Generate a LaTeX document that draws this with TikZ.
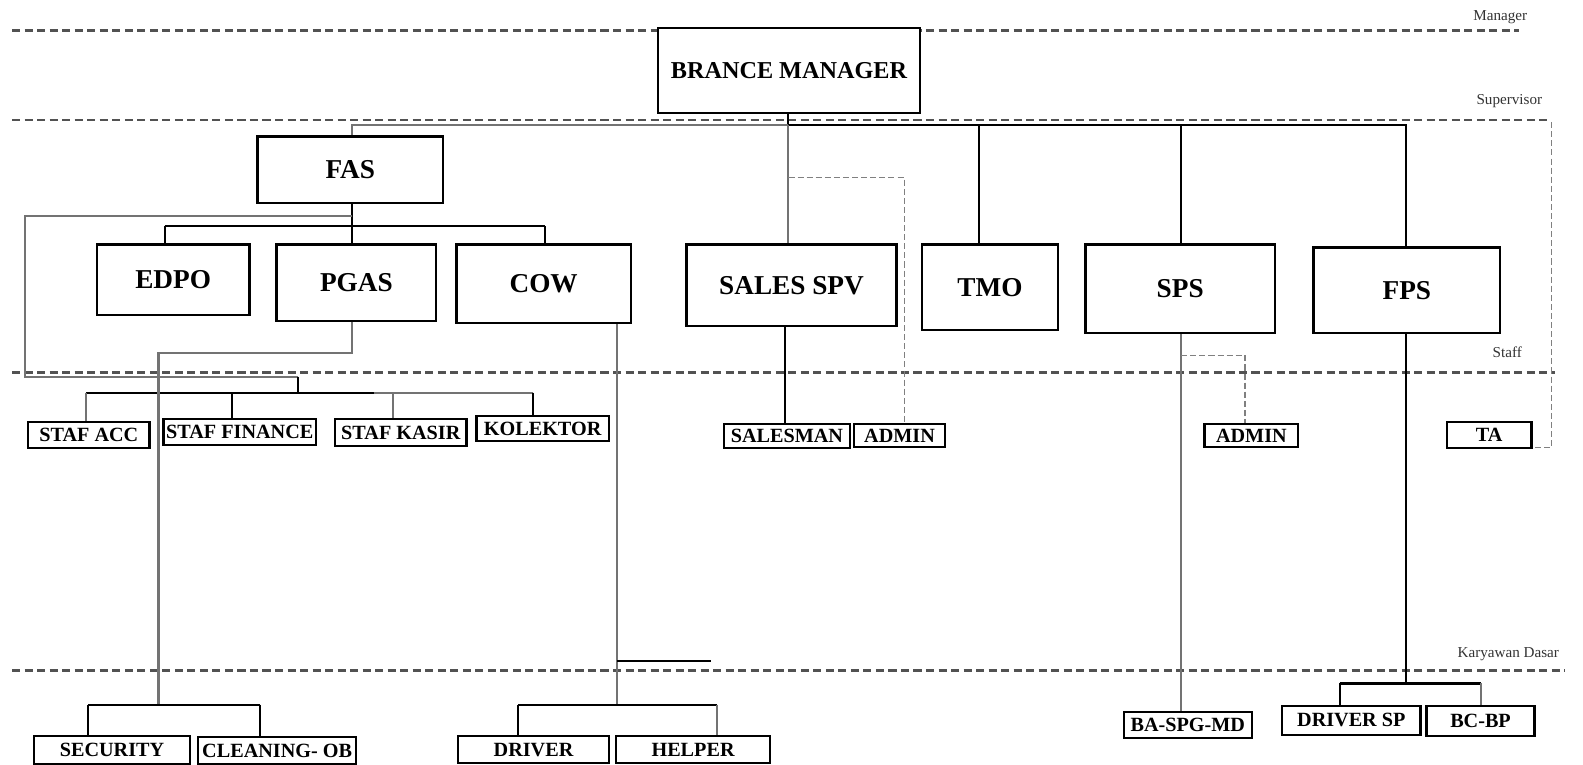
\documentclass[tikz,border=0pt]{standalone}
\usepackage{fontspec}
\setmainfont{Liberation Serif}
\begin{document}
\begin{tikzpicture}[x=0.5pt,y=-0.5pt,
  box/.style={draw, line width=1.2pt, fill=white, inner sep=0pt, font=\bfseries\fontsize{13.5}{14}\selectfont},
  sbox/.style={draw, line width=1.1pt, fill=white, inner sep=0pt, font=\bfseries\fontsize{10}{11}\selectfont},
  level/.style={dash pattern=on 4pt off 2.2pt, line width=1.25pt, draw=black!68},
  lvltxt/.style={font=\fontsize{7.5}{8}\selectfont, text=black!80, inner sep=0pt},
  conn/.style={line width=1pt, draw=black},
  gconn/.style={line width=1pt, draw=black!55},
  dconn/.style={line width=0.7pt, draw=black!50, dash pattern=on 3pt off 1.5pt}]
\useasboundingbox (0,0) rectangle (1568,757);
\fill[white] (0,0) rectangle (1568,757);

% level lines
\coordinate (m1) at (12,30);   \coordinate (m2) at (1505,30);
\coordinate (s1) at (12,119);  \coordinate (s2) at (1537,119);
\coordinate (t1) at (12,369);  \coordinate (t2) at (1540,369);
\coordinate (k1) at (12,664);  \coordinate (k2) at (1550,664);
\draw[level] (m1) -- (m2);
\draw[level] (s1) -- (s2);
\draw[level] (t1) -- (t2);
\draw[level] (k1) -- (k2);
\node[lvltxt] (lm) at (1486,17) {Manager};
\node[lvltxt] (ls) at (1495,100) {Supervisor};
\node[lvltxt] (lt) at (1493,349) {Staff};
\node[lvltxt] (lk) at (1494,648) {Karyawan Dasar};

% main boxes
\node[box, font=\bfseries\fontsize{12}{13}\selectfont, minimum width=129.5pt, minimum height=42pt] (bm) at (781.5,70) {BRANCE MANAGER};
\node[box, minimum width=92pt, minimum height=33pt] (fas) at (347,168) {FAS};
\node[box, minimum width=75.5pt, minimum height=35pt] (edpo) at (171.5,277) {EDPO};
\node[box, minimum width=79pt, minimum height=38pt] (pgas) at (353,280) {PGAS};
\node[box, minimum width=86.5pt, minimum height=39pt] (cow) at (538.5,281) {COW};
\node[box, minimum width=104pt, minimum height=40.5pt] (sspv) at (784,282.5) {SALES SPV};
\node[box, minimum width=67.5pt, minimum height=42.5pt] (tmo) at (980.5,284.5) {TMO};
\node[box, minimum width=94pt, minimum height=44pt] (sps) at (1169,286) {SPS};
\node[box, minimum width=92.5pt, minimum height=42.5pt] (fps) at (1393.5,287.5) {FPS};

% staff boxes
\node[sbox, minimum width=60pt, minimum height=13pt] (acc) at (88,431) {STAF ACC};
\node[sbox, minimum width=75.5pt, minimum height=13pt] (fin) at (237.5,428) {STAF FINANCE};
\node[sbox, minimum width=65pt, minimum height=13.5pt] (kasir) at (397,428.5) {STAF KASIR};
\node[sbox, minimum width=65.5pt, minimum height=12.5pt] (kol) at (537.5,424.5) {KOLEKTOR};
\node[sbox, minimum width=62.5pt, minimum height=12pt] (salesman) at (779.5,432) {SALESMAN};
\node[sbox, minimum width=45pt, minimum height=11.5pt] (admina) at (891,431.5) {ADMIN};
\node[sbox, minimum width=46.5pt, minimum height=11.5pt] (adminb) at (1239.5,431.5) {ADMIN};
\node[sbox, minimum width=42pt, minimum height=13pt] (ta) at (1475,431) {TA};

% bottom boxes
\node[sbox, minimum width=77pt, minimum height=14pt] (sec) at (111,743) {SECURITY};
\node[sbox, minimum width=78.5pt, minimum height=13.5pt] (clean) at (274.5,743.5) {CLEANING- OB};
\node[sbox, minimum width=74.5pt, minimum height=13.5pt] (drv) at (528.5,742.5) {DRIVER};
\node[sbox, minimum width=76.5pt, minimum height=13.5pt] (help) at (686.5,742.5) {HELPER};
\node[sbox, minimum width=63.5pt, minimum height=13pt] (ba) at (1176.5,718) {BA-SPG-MD};
\node[sbox, minimum width=68.5pt, minimum height=14.5pt] (drvsp) at (1338.5,713.5) {DRIVER SP};
\node[sbox, minimum width=53.5pt, minimum height=15pt] (bcbp) at (1466.5,714) {BC-BP};

% junction coordinates
\coordinate (jBM) at (781,124);
\coordinate (jFAS) at (349,124);
\coordinate (jTMO) at (970,124);
\coordinate (jSPS) at (1170,124);
\coordinate (jFPS) at (1393,124);
\coordinate (jSA1) at (781,176);
\coordinate (jSA2) at (896,176);
\coordinate (jF1) at (349,224);
\coordinate (jE) at (163,224);
\coordinate (jC) at (540,224);
\coordinate (jG1) at (349,214);
\coordinate (jG2) at (25,214);
\coordinate (jG3) at (25,373);
\coordinate (jG4) at (295,373);
\coordinate (jG5) at (295,389);
\coordinate (jS1) at (85,389);
\coordinate (jS2) at (230,389);
\coordinate (jSm) at (370,389);
\coordinate (jS3) at (389,389);
\coordinate (jS4) at (528,389);
\coordinate (jP1) at (349,350);
\coordinate (jP2) at (157,350);
\coordinate (jP3) at (157,698);
\coordinate (jSe) at (87,698);
\coordinate (jCl) at (258,698);
\coordinate (jW1) at (611,698);
\coordinate (jDr) at (513,698);
\coordinate (jHe) at (710,698);
\coordinate (jX1) at (611,655);
\coordinate (jX2) at (704,655);
\coordinate (jSM) at (778,330);
\coordinate (jAd1) at (1170,352);
\coordinate (jAd2) at (1233,352);
\coordinate (jFP) at (1393,677);
\coordinate (jDs) at (1327,677);
\coordinate (jBc) at (1467,677);
\coordinate (jTA1) at (1537,121);
\coordinate (jTA2) at (1537,443);

% top level connectors
\draw[conn] (bm.south -| jBM) -- (jBM);
\draw[gconn] (fas.north -| jFAS) -- (jFAS) -- (jBM);
\draw[conn] (jBM) -- (jFPS) -- (jFPS |- fps.north);
\draw[gconn] (jBM) -- (jBM |- sspv.north);
\draw[conn] (jTMO) -- (jTMO |- tmo.north);
\draw[conn] (jSPS) -- (jSPS |- sps.north);
\draw[dconn] (jSA1) -- (jSA2) -- (jSA2 |- admina.north);

% FAS subtree
\draw[conn] (fas.south -| jF1) -- (jF1);
\draw[conn] (jE) -- (jC);
\draw[conn] (jE) -- (jE |- edpo.north);
\draw[conn] (jF1) -- (jF1 |- pgas.north);
\draw[conn] (jC) -- (jC |- cow.north);
\draw[gconn] (jG1) -- (jG2) -- (jG3) -- (jG4);
\draw[conn] (jG4) -- (jG5);
\draw[conn] (jS1) -- (jSm);
\draw[gconn] (jSm) -- (jS4);
\draw[gconn] (jS1) -- (jS1 |- acc.north);
\draw[conn] (jS2) -- (jS2 |- fin.north);
\draw[gconn] (jS3) -- (jS3 |- kasir.north);
\draw[conn] (jS4) -- (jS4 |- kol.north);

% PGAS subtree
\draw[gconn] (pgas.south -| jP1) -- (jP1) -- (jP2) -- (jP3);
\draw[conn] (jSe) -- (jCl);
\draw[conn] (jSe) -- (jSe |- sec.north);
\draw[conn] (jCl) -- (jCl |- clean.north);

% COW subtree
\draw[gconn] (cow.south -| jW1) -- (jW1);
\draw[conn] (jDr) -- (jHe);
\draw[conn] (jDr) -- (jDr |- drv.north);
\draw[gconn] (jHe) -- (jHe |- help.north);
\draw[conn] (jX1) -- (jX2);

% SALES SPV
\draw[conn] (sspv.south -| jSM) -- (jSM |- salesman.north);

% SPS
\draw[gconn] (sps.south -| jAd1) -- (jAd1 |- ba.north);
\draw[dconn] (jAd1) -- (jAd2) -- (jAd2 |- adminb.north);

% FPS
\draw[conn] (fps.south -| jFP) -- (jFP);
\draw[conn] (jDs) -- (jBc);
\draw[conn] (jDs) -- (jDs |- drvsp.north);
\draw[gconn] (jBc) -- (jBc |- bcbp.north);

% TA
\draw[dconn] (jTA1) -- (jTA2) -- (jTA2 -| ta.east);
\end{tikzpicture}
\end{document}
